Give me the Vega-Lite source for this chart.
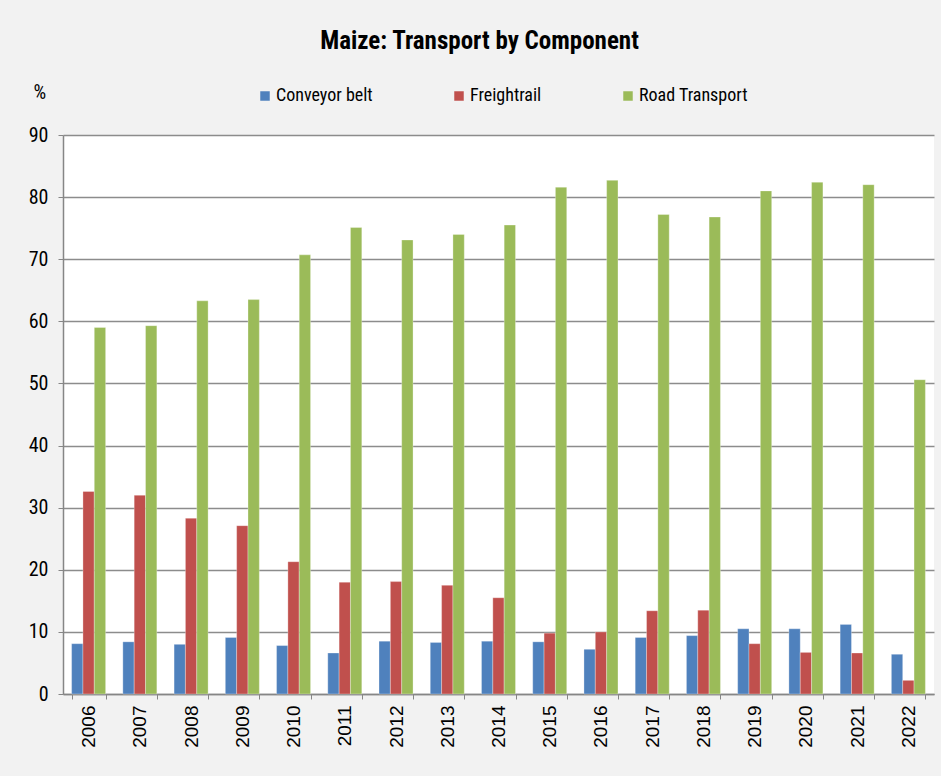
{
  "$schema": "https://vega.github.io/schema/vega-lite/v6.json",
  "width": 871,
  "height": 559,
  "autosize": {"type": "none"},
  "padding": {"left": 63, "top": 135, "right": 7, "bottom": 82},
  "background": "#f2f2f2",
  "title": {
    "text": "Maize: Transport by Component",
    "font": "Roboto Condensed, Liberation Sans, sans-serif",
    "fontSize": 25,
    "fontWeight": "bold",
    "color": "#000000",
    "anchor": "middle",
    "dx": -19,
    "offset": 28
  },
  "data": {
    "values": [
      {"year": "2006", "component": "Conveyor belt", "value": 8.1},
      {"year": "2006", "component": "Freightrail", "value": 32.6},
      {"year": "2006", "component": "Road Transport", "value": 59.0},
      {"year": "2007", "component": "Conveyor belt", "value": 8.4},
      {"year": "2007", "component": "Freightrail", "value": 32.0},
      {"year": "2007", "component": "Road Transport", "value": 59.3},
      {"year": "2008", "component": "Conveyor belt", "value": 8.0},
      {"year": "2008", "component": "Freightrail", "value": 28.3},
      {"year": "2008", "component": "Road Transport", "value": 63.3},
      {"year": "2009", "component": "Conveyor belt", "value": 9.1},
      {"year": "2009", "component": "Freightrail", "value": 27.1},
      {"year": "2009", "component": "Road Transport", "value": 63.5},
      {"year": "2010", "component": "Conveyor belt", "value": 7.8},
      {"year": "2010", "component": "Freightrail", "value": 21.3},
      {"year": "2010", "component": "Road Transport", "value": 70.7},
      {"year": "2011", "component": "Conveyor belt", "value": 6.6},
      {"year": "2011", "component": "Freightrail", "value": 18.0},
      {"year": "2011", "component": "Road Transport", "value": 75.1},
      {"year": "2012", "component": "Conveyor belt", "value": 8.5},
      {"year": "2012", "component": "Freightrail", "value": 18.1},
      {"year": "2012", "component": "Road Transport", "value": 73.1},
      {"year": "2013", "component": "Conveyor belt", "value": 8.3},
      {"year": "2013", "component": "Freightrail", "value": 17.5},
      {"year": "2013", "component": "Road Transport", "value": 74.0},
      {"year": "2014", "component": "Conveyor belt", "value": 8.5},
      {"year": "2014", "component": "Freightrail", "value": 15.5},
      {"year": "2014", "component": "Road Transport", "value": 75.5},
      {"year": "2015", "component": "Conveyor belt", "value": 8.4},
      {"year": "2015", "component": "Freightrail", "value": 9.8},
      {"year": "2015", "component": "Road Transport", "value": 81.6},
      {"year": "2016", "component": "Conveyor belt", "value": 7.2},
      {"year": "2016", "component": "Freightrail", "value": 10.0},
      {"year": "2016", "component": "Road Transport", "value": 82.7},
      {"year": "2017", "component": "Conveyor belt", "value": 9.1},
      {"year": "2017", "component": "Freightrail", "value": 13.4},
      {"year": "2017", "component": "Road Transport", "value": 77.2},
      {"year": "2018", "component": "Conveyor belt", "value": 9.4},
      {"year": "2018", "component": "Freightrail", "value": 13.5},
      {"year": "2018", "component": "Road Transport", "value": 76.8},
      {"year": "2019", "component": "Conveyor belt", "value": 10.5},
      {"year": "2019", "component": "Freightrail", "value": 8.1},
      {"year": "2019", "component": "Road Transport", "value": 81.0},
      {"year": "2020", "component": "Conveyor belt", "value": 10.5},
      {"year": "2020", "component": "Freightrail", "value": 6.7},
      {"year": "2020", "component": "Road Transport", "value": 82.4},
      {"year": "2021", "component": "Conveyor belt", "value": 11.2},
      {"year": "2021", "component": "Freightrail", "value": 6.6},
      {"year": "2021", "component": "Road Transport", "value": 82.0},
      {"year": "2022", "component": "Conveyor belt", "value": 6.4},
      {"year": "2022", "component": "Freightrail", "value": 2.2},
      {"year": "2022", "component": "Road Transport", "value": 50.6}
    ]
  },
  "mark": {"type": "bar", "stroke": "#ffffff", "strokeWidth": 0.6, "strokeOpacity": 0.5},
  "encoding": {
    "x": {
      "field": "year",
      "type": "nominal",
      "scale": {"paddingInner": 0.336, "paddingOuter": 0.168},
      "axis": {
        "title": null,
        "labelAngle": 270,
        "labelFont": "Liberation Sans, Arial, sans-serif",
        "labelFontSize": 19,
        "labelColor": "#000000",
        "labelPadding": 6,
        "tickBand": "extent",
        "tickSize": 5,
        "tickColor": "#868686",
        "domainColor": "#868686",
        "domainWidth": 1.5,
        "grid": false
      }
    },
    "xOffset": {
      "field": "component",
      "type": "nominal",
      "scale": {"paddingInner": 0, "paddingOuter": 0}
    },
    "y": {
      "field": "value",
      "type": "quantitative",
      "scale": {"domain": [0, 90], "nice": false},
      "axis": {
        "values": [0, 10, 20, 30, 40, 50, 60, 70, 80, 90],
        "title": "%",
        "titleAngle": 0,
        "titleX": -30,
        "titleY": -43,
        "titleAlign": "left",
        "titleBaseline": "middle",
        "titleFont": "Roboto Condensed, Liberation Sans, sans-serif",
        "titleFontSize": 20,
        "titleFontWeight": "normal",
        "titleColor": "#000000",
        "labelFont": "Roboto Condensed, Liberation Sans, sans-serif",
        "labelFontSize": 20,
        "labelColor": "#000000",
        "labelPadding": 10,
        "tickSize": 5,
        "tickColor": "#868686",
        "domainColor": "#868686",
        "domainWidth": 1.5,
        "gridColor": "#8c8c8c",
        "gridWidth": 1.5
      }
    },
    "color": {
      "field": "component",
      "type": "nominal",
      "scale": {
        "domain": ["Conveyor belt", "Freightrail", "Road Transport"],
        "range": ["#4f81bd", "#c0504d", "#9bbb59"]
      },
      "legend": {
        "orient": "none",
        "legendX": 193,
        "legendY": -48,
        "direction": "horizontal",
        "title": null,
        "symbolType": "square",
        "symbolSize": 90,
        "symbolStrokeWidth": 0,
        "labelFont": "Roboto Condensed, Liberation Sans, sans-serif",
        "labelFontSize": 18,
        "labelColor": "#000000",
        "labelOffset": 2,
        "columnPadding": 77
      }
    }
  },
  "config": {
    "view": {"fill": "#ffffff", "stroke": null}
  }
}
